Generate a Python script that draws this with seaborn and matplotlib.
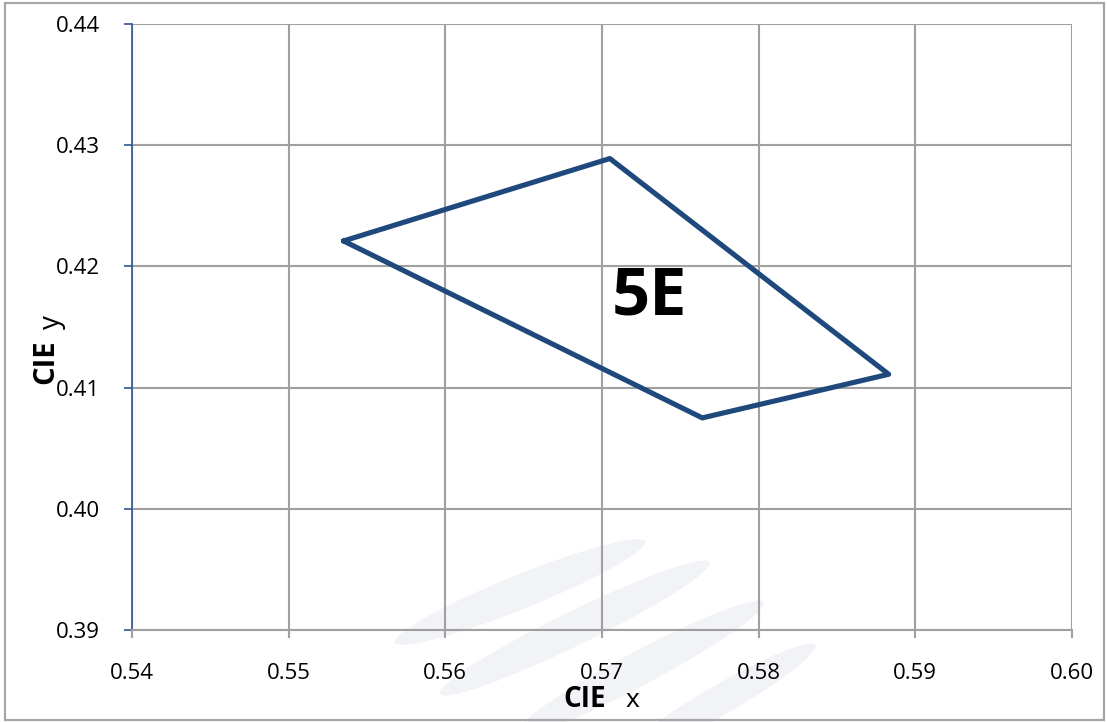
import matplotlib
matplotlib.use("Agg")
import matplotlib.pyplot as plt
from matplotlib.patches import Ellipse, Rectangle
from matplotlib.ticker import FormatStrFormatter
import seaborn as sns

# CIE chromaticity quadrangle for bin 5E (closed polygon)
cie_x = [0.5535, 0.5705, 0.5883, 0.5764, 0.5535]
cie_y = [0.4221, 0.4289, 0.4111, 0.4075, 0.4221]
bin_label = "5E"
x_ticks = [0.54, 0.55, 0.56, 0.57, 0.58, 0.59, 0.60]
y_ticks = [0.39, 0.40, 0.41, 0.42, 0.43, 0.44]

W, H = 1107, 722
line_blue = "#1F497D"
axis_blue = "#2F5597"
grid_gray = "#A0A0A0"

sns.set_style("white")
plt.rcParams["font.family"] = ["Open Sans", "DejaVu Sans"]
plt.rcParams["text.color"] = "black"

fig = plt.figure(figsize=(W / 100, H / 100), dpi=100)

# faint watermark stripes behind the chart
bg = fig.add_axes([0, 0, 1, 1], zorder=0)
bg.set_xlim(0, W)
bg.set_ylim(H, 0)
bg.axis("off")
for cx, cy, length, width, ang in [(520, 592, 270, 34, -22),
                                   (575, 628, 300, 34, -26),
                                   (640, 668, 280, 34, -28),
                                   (720, 700, 220, 30, -30)]:
    bg.add_patch(Ellipse((cx, cy), length, width, angle=ang,
                         color="#F2F3F6", lw=0))
bg.add_patch(Rectangle((5, 3), 1099, 717, fill=False, ec="#A6A6A6", lw=1.6))

ax = fig.add_axes([132 / W, 1 - 630 / H, (1072 - 132) / W, (630 - 24) / H], zorder=1)
ax.set_facecolor("none")

sns.lineplot(x=cie_x, y=cie_y, sort=False, estimator=None, color=line_blue,
             linewidth=3.7, ax=ax, zorder=3)

ax.set_xlim(0.54, 0.60)
ax.set_ylim(0.39, 0.44)
ax.set_xticks(x_ticks)
ax.set_yticks(y_ticks)
ax.xaxis.set_major_formatter(FormatStrFormatter("%.2f"))
ax.yaxis.set_major_formatter(FormatStrFormatter("%.2f"))
ax.grid(True, color=grid_gray, linewidth=1.5)
ax.set_axisbelow(True)

for side in ["top", "right"]:
    ax.spines[side].set_visible(False)
ax.spines["left"].set_color(axis_blue)
ax.spines["left"].set_linewidth(1.2)
ax.spines["bottom"].set_color(grid_gray)
ax.spines["bottom"].set_linewidth(1.5)

ax.tick_params(axis="y", length=6, width=1.2, color=axis_blue, pad=17,
               labelsize=16, labelcolor="black", left=True)
ax.tick_params(axis="x", length=6, width=1.5, color=grid_gray, pad=18,
               labelsize=16, labelcolor="black", bottom=True)

ax.text(0.573, 0.4175, bin_label, fontsize=48, fontweight="bold",
        color="black", ha="center", va="center", zorder=4)

# axis titles: bold "CIE" with a plain variable letter
fig.text(563 / W, 1 - 707 / H, "CIE", fontsize=20, fontweight="bold",
         ha="left", va="baseline")
fig.text(626 / W, 1 - 707 / H, "x", fontsize=19, ha="left", va="baseline")
fig.text(46 / W, 1 - 384 / H, "CIE", fontsize=21, fontweight="bold",
         rotation=90, ha="center", va="bottom")
fig.text(52 / W, 1 - 329 / H, "y", fontsize=20, rotation=90,
         ha="center", va="bottom")

fig.savefig("out.png", dpi=100)
